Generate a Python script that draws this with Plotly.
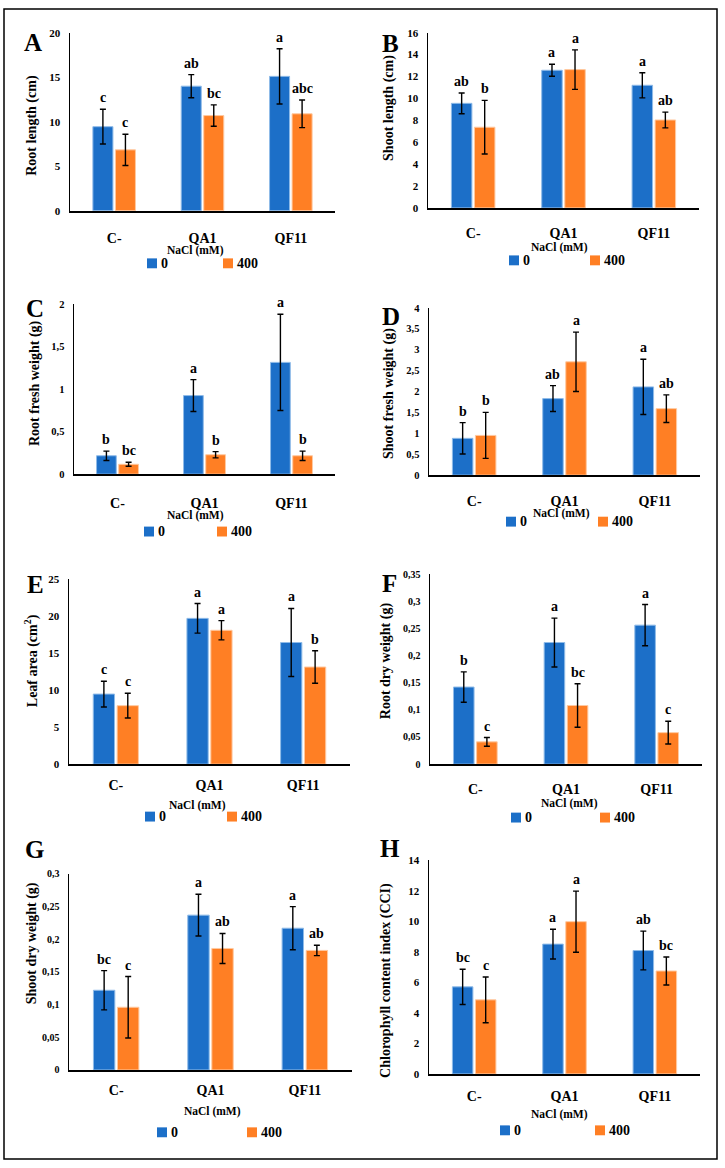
import plotly.graph_objects as go

W, H = 725, 1168

categories = ["C-", "QA1", "QF11"]
series_names = ["0", "400"]
legend_title = "NaCl (mM)"

# ---- data per panel (mean, error, letters) ----
A_0 = [9.45, 14.0, 15.1];   A_0_err = [1.95, 1.3, 3.1];   A_0_lab = ["c", "ab", "a"]
A_400 = [6.85, 10.7, 10.9]; A_400_err = [1.75, 1.2, 1.55]; A_400_lab = ["c", "bc", "abc"]

B_0 = [9.55, 12.57, 11.2];  B_0_err = [0.95, 0.55, 1.15];  B_0_lab = ["ab", "a", "a"]
B_400 = [7.37, 12.63, 8.03]; B_400_err = [2.45, 1.8, 0.72]; B_400_lab = ["b", "a", "ab"]

C_0 = [0.216, 0.923, 1.313]; C_0_err = [0.055, 0.187, 0.565]; C_0_lab = ["b", "a", "a"]
C_400 = [0.116, 0.228, 0.216]; C_400_err = [0.023, 0.037, 0.055]; C_400_lab = ["bc", "b", "b"]

D_0 = [0.88, 1.83, 2.11];   D_0_err = [0.375, 0.31, 0.66];  D_0_lab = ["b", "ab", "a"]
D_400 = [0.95, 2.71, 1.59]; D_400_err = [0.55, 0.71, 0.33]; D_400_lab = ["b", "a", "ab"]

E_0 = [9.46, 19.69, 16.43]; E_0_err = [1.74, 2.0, 4.6];    E_0_lab = ["c", "a", "a"]
E_400 = [7.9, 18.08, 13.12]; E_400_err = [1.67, 1.3, 2.2]; E_400_lab = ["c", "a", "b"]

F_0 = [0.142, 0.224, 0.256]; F_0_err = [0.028, 0.045, 0.038]; F_0_lab = ["b", "a", "a"]
F_400 = [0.041, 0.108, 0.058]; F_400_err = [0.008, 0.040, 0.021]; F_400_lab = ["c", "bc", "c"]

G_0 = [0.122, 0.237, 0.217]; G_0_err = [0.030, 0.032, 0.033]; G_0_lab = ["bc", "a", "a"]
G_400 = [0.096, 0.186, 0.183]; G_400_err = [0.047, 0.023, 0.008]; G_400_lab = ["c", "ab", "ab"]

H_0 = [5.7, 8.5, 8.08];     H_0_err = [1.15, 0.97, 1.27];  H_0_lab = ["bc", "a", "ab"]
H_400 = [4.85, 9.97, 6.74]; H_400_err = [1.5, 2.0, 0.92];  H_400_lab = ["c", "a", "bc"]

y_titles = ["Root length (cm)", "Shoot length (cm)", "Root fresh weight (g)",
            "Shoot fresh weight (g)", "Leaf area (cm<sup>2</sup>)", "Root dry weight (g)",
            "Shoot dry weight (g)", "Chlorophyll content index (CCI)"]
panel_letters = ["A", "B", "C", "D", "E", "F", "G", "H"]
y_max = [20, 16, 2, 4, 25, 0.35, 0.3, 14]
y_dtick = [5, 2, 0.5, 0.5, 5, 0.05, 0.05, 2]

panels_data = [
    (A_0, A_0_err, A_0_lab, A_400, A_400_err, A_400_lab),
    (B_0, B_0_err, B_0_lab, B_400, B_400_err, B_400_lab),
    (C_0, C_0_err, C_0_lab, C_400, C_400_err, C_400_lab),
    (D_0, D_0_err, D_0_lab, D_400, D_400_err, D_400_lab),
    (E_0, E_0_err, E_0_lab, E_400, E_400_err, E_400_lab),
    (F_0, F_0_err, F_0_lab, F_400, F_400_err, F_400_lab),
    (G_0, G_0_err, G_0_lab, G_400, G_400_err, G_400_lab),
    (H_0, H_0_err, H_0_lab, H_400, H_400_err, H_400_lab),
]

# ---- layout geometry (pixels) ----
# plot area: x0, x1, ytop, ybottom
areas = [(70, 335, 27, 207), (428, 699, 27, 204),
         (74, 335, 301, 473), (429, 700, 305, 474),
         (69, 350, 579, 766), (430, 702, 574, 766),
         (69, 352, 877, 1075), (429, 700, 863, 1079)]
cat_ticklen = [13, 11, 15, 12, 7, 11, 6, 8]
ytick_size = [11, 11, 10.5, 10.5, 11, 10, 10, 11]
letter_pos = [(33, 37), (390, 38), (35, 306), (391, 314), (35, 585), (389, 583), (34, 852), (390, 851)]
ytitle_pos = [(32, 120), (389, 103), (35, 381), (389, 392), (31, 662), (386, 662), (32, 947), (386, 985)]
nacl_pos = [(195, 247), (559, 244), (195, 515), (561, 513), (197, 808), (569, 806), (212, 1117), (559, 1120)]
legend_pos = [(152, 228, 260), (514, 595, 257), (149, 222, 531), (511, 603, 521),
              (150, 232, 819), (516, 605, 820), (162, 252, 1138), (505, 600, 1136)]

BLUE = "#1C6FC8"
ORANGE = "#FF7F24"
FONT = "Liberation Serif"


def fx(px):
    return px / W


def fy(py):
    return 1 - py / H


fig = go.Figure()
annotations = []
shapes = []
layout = {}
BARGAP = 0.49
offset = (1 - BARGAP) / 4

for k, (d0, e0, l0, d4, e4, l4) in enumerate(panels_data):
    n = k + 1
    xa = "x" if n == 1 else f"x{n}"
    ya = "y" if n == 1 else f"y{n}"
    for name, vals, errs, col, edge in [(series_names[0], d0, e0, BLUE, "#8fbbe8"),
                                        (series_names[1], d4, e4, ORANGE, "#ffc9a0")]:
        fig.add_trace(go.Bar(
            x=categories, y=vals, name=name, xaxis=xa, yaxis=ya, showlegend=False,
            marker=dict(color=col, line=dict(color=edge, width=1)),
            error_y=dict(type="data", array=errs, color="black", thickness=1.4, width=3),
        ))
    # significance letters
    for i in range(3):
        for vals, errs, labs, dx in [(d0, e0, l0, -offset), (d4, e4, l4, offset)]:
            annotations.append(dict(
                x=i + dx, y=vals[i] + errs[i], xref=xa, yref=ya, text=labs[i],
                showarrow=False, yanchor="bottom", yshift=2,
                font=dict(family=FONT, size=14, color="black", weight="bold")))
    x0, x1, yt, yb = areas[k]
    layout["xaxis" if n == 1 else f"xaxis{n}"] = dict(
        domain=[fx(x0), fx(x1)], anchor=ya, type="category", range=[-0.5, 2.5],
        showline=True, linecolor="black", linewidth=2, showgrid=False,
        ticks="outside", ticklen=cat_ticklen[k], tickcolor="rgba(0,0,0,0)",
        tickfont=dict(family=FONT, size=14, color="black", weight="bold"), fixedrange=True)
    layout["yaxis" if n == 1 else f"yaxis{n}"] = dict(
        domain=[fy(yb), fy(yt)], anchor=xa, range=[0, y_max[k]], dtick=y_dtick[k], tick0=0,
        showline=True, linecolor="black", linewidth=1.5, showgrid=False, zeroline=False,
        ticks="outside", ticklen=6, tickcolor="rgba(0,0,0,0)",
        tickfont=dict(family=FONT, size=ytick_size[k], color="black", weight="bold"), fixedrange=True)
    # panel letter
    lx, ly = letter_pos[k]
    annotations.append(dict(x=fx(lx), y=fy(ly), xref="paper", yref="paper", text=panel_letters[k],
                            showarrow=False, xanchor="center", yanchor="middle",
                            font=dict(family=FONT, size=25, color="black", weight="bold")))
    # y title
    tx, ty = ytitle_pos[k]
    annotations.append(dict(x=fx(tx), y=fy(ty), xref="paper", yref="paper", text=y_titles[k],
                            showarrow=False, textangle=-90, xanchor="center", yanchor="middle",
                            font=dict(family=FONT, size=14, color="black", weight="bold")))
    # NaCl label
    nx, ny = nacl_pos[k]
    annotations.append(dict(x=fx(nx), y=fy(ny), xref="paper", yref="paper", text=legend_title,
                            showarrow=False, xanchor="center", yanchor="middle",
                            font=dict(family=FONT, size=11.5, color="black", weight="bold")))
    # legend (square swatch + label)
    bx, ox, lyy = legend_pos[k]
    for cx, col, name in [(bx, BLUE, series_names[0]), (ox, ORANGE, series_names[1])]:
        shapes.append(dict(type="rect", xref="paper", yref="paper",
                           x0=fx(cx - 5), x1=fx(cx + 5), y0=fy(lyy + 5), y1=fy(lyy - 5),
                           fillcolor=col, line=dict(width=0)))
        annotations.append(dict(x=fx(cx + 7), y=fy(lyy), xref="paper", yref="paper", text=name,
                                showarrow=False, xanchor="left", yanchor="middle",
                                font=dict(family=FONT, size=14, color="black", weight="bold")))

shapes.append(dict(type="rect", xref="paper", yref="paper", x0=fx(4), x1=fx(717), y0=fy(1165), y1=fy(3),
                   line=dict(color="black", width=1.5)))

fig.update_layout(
    width=W, height=H, margin=dict(l=0, r=0, t=0, b=0),
    paper_bgcolor="white", plot_bgcolor="white", showlegend=False,
    barmode="group", bargap=BARGAP, bargroupgap=0.11,
    separators=",.", annotations=annotations, shapes=shapes, **layout)

fig.write_html("out.html", config={"displayModeBar": False, "staticPlot": True},
               post_script="document.body.style.margin='0px';document.body.style.overflow='hidden';")
